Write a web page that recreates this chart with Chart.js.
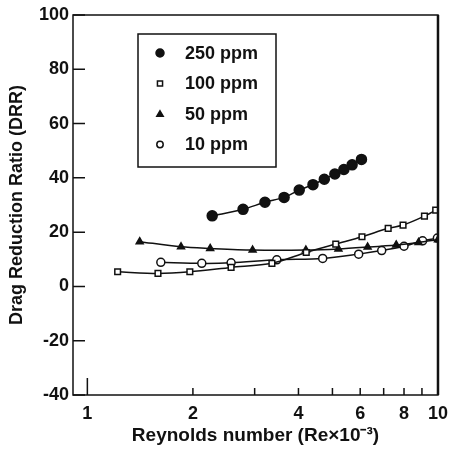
<!DOCTYPE html>
<html>
<head>
<meta charset="utf-8">
<script src="https://cdn.jsdelivr.net/npm/chart.js@4/dist/chart.umd.min.js"></script>
<style>
  html, body { margin: 0; padding: 0; background: #fff; }
  #wrap { width: 456px; height: 450px; }
</style>
</head>
<body>
<div id="wrap"><canvas id="canvasOne" width="456" height="450"></canvas></div>
<script>
// series names (legend order)
let seriesNames = ['250 ppm', '100 ppm', '50 ppm', '10 ppm'];

// Reynolds number (Re x 10^-3) and drag reduction ratio
let re250  = [2.27, 2.78, 3.21, 3.64, 4.02, 4.40, 4.74, 5.08, 5.39, 5.69, 6.05];
let drr250 = [26.0, 28.4, 31.0, 32.8, 35.5, 37.5, 39.5, 41.4, 43.1, 44.8, 46.8];

let re100  = [1.22, 1.59, 1.96, 2.57, 3.36, 4.21, 5.11, 6.07, 7.21, 7.95, 9.15, 9.85];
let drr100 = [5.4, 4.8, 5.4, 7.0, 8.5, 12.5, 15.6, 18.3, 21.4, 22.6, 25.9, 28.1];

let re50  = [1.41, 1.85, 2.24, 2.96, 4.20, 5.20, 6.30, 7.60, 8.80, 10.0];
let drr50 = [16.5, 14.6, 14.0, 13.4, 13.4, 13.8, 14.5, 15.3, 16.2, 17.2];

let re10  = [1.62, 2.12, 2.57, 3.47, 4.69, 5.94, 6.91, 8.00, 9.04, 9.96];
let drr10 = [8.9, 8.5, 8.7, 9.8, 10.3, 11.9, 13.2, 14.8, 16.8, 17.8];

// axis ticks
let xTicks = [1, 2, 3, 4, 5, 6, 7, 8, 9, 10];
let xTickLabels = [1, 2, 4, 6, 8, 10];
let yTicks = [-40, -20, 0, 20, 40, 60, 80, 100];

function pts(xs, ys) {
    return xs.map(function(x, i) {
        return { x: x, y: ys[i] };
    });
}

Chart.defaults.font.family = '"Liberation Sans", Arial, sans-serif';
Chart.defaults.font.weight = 'bold';
Chart.defaults.color = '#111';

// box round the plot, inward tick marks and the legend box
let framePlugin = {
    id: 'frame',
    afterDraw: function(chart) {
        let ctx = chart.ctx;
        let a = chart.chartArea;
        let xs = chart.scales.x;
        let ys = chart.scales.y;
        ctx.save();
        ctx.strokeStyle = '#111';
        ctx.lineWidth = 1.5;
        ctx.strokeRect(a.left, a.top, a.right - a.left, a.bottom - a.top);
        ctx.lineWidth = 2.5;
        ctx.beginPath();
        ctx.moveTo(a.right, a.top);
        ctx.lineTo(a.right, a.bottom);
        ctx.stroke();

        ctx.lineWidth = 1.5;
        ctx.beginPath();
        yTicks.forEach(function(v) {
            let py = ys.getPixelForValue(v);
            ctx.moveTo(a.left, py);
            ctx.lineTo(a.left + 12, py);
        });
        xTicks.forEach(function(v) {
            let px = xs.getPixelForValue(v);
            ctx.moveTo(px, a.bottom);
            ctx.lineTo(px, a.bottom - (v == 1 ? 17 : 7));
        });
        ctx.stroke();

        // legend
        let lx = a.left + 65, ly = a.top + 19, lw = 138, lh = 133;
        ctx.fillStyle = '#fff';
        ctx.fillRect(lx, ly, lw, lh);
        ctx.lineWidth = 1.5;
        ctx.strokeRect(lx, ly, lw, lh);
        ctx.font = 'bold 18px "Liberation Sans", Arial, sans-serif';
        ctx.textBaseline = 'middle';
        chart.data.datasets.forEach(function(ds, i) {
            let cy = ly + 19 + i * 30.5;
            let cx = lx + 22;
            let r = ds.pointRadius * 0.8;
            ctx.fillStyle = ds.pointBackgroundColor;
            ctx.strokeStyle = '#111';
            ctx.lineWidth = 1.5;
            ctx.beginPath();
            if (ds.pointStyle == 'circle') {
                ctx.arc(cx, cy, r, 0, Math.PI * 2);
            } else if (ds.pointStyle == 'rect') {
                ctx.rect(cx - r * 0.8, cy - r * 0.8, r * 1.6, r * 1.6);
            } else {
                ctx.moveTo(cx, cy - r);
                ctx.lineTo(cx + r, cy + r * 0.7);
                ctx.lineTo(cx - r, cy + r * 0.7);
                ctx.closePath();
            }
            ctx.fill();
            ctx.stroke();
            ctx.fillStyle = '#111';
            ctx.fillText(ds.label, lx + 47, cy + 1);
        });
        ctx.restore();
    }
};

function makeSet(i, xs, ys, style, fill, radius) {
    return {
        label: seriesNames[i],
        data: pts(xs, ys),
        showLine: true,
        borderColor: '#111',
        borderWidth: 1.5,
        tension: 0.3,
        pointStyle: style,
        pointRadius: radius,
        pointBorderWidth: 1.5,
        pointBorderColor: '#111',
        pointBackgroundColor: fill
    };
}

let ctx = document.getElementById('canvasOne').getContext('2d');
let config = {
    type: 'scatter',
    data: {
        datasets: [
            makeSet(0, re250, drr250, 'circle', '#111', 5),
            makeSet(1, re100, drr100, 'rect', '#fff', 4),
            makeSet(2, re50, drr50, 'triangle', '#111', 4),
            makeSet(3, re10, drr10, 'circle', '#fff', 4)
        ]
    },
    options: {
        responsive: false,
        animation: false,
        layout: { padding: { left: 6, top: 15, right: 12, bottom: 0 } },
        plugins: {
            legend: { display: false },
            tooltip: { enabled: false }
        },
        scales: {
            x: {
                type: 'logarithmic',
                min: 0.91,
                max: 10,
                grid: { display: false, drawTicks: false },
                border: { display: false },
                afterBuildTicks: function(scale) {
                    scale.ticks = xTicks.map(function(v) { return { value: v }; });
                },
                afterFit: function(scale) { scale.height = 55; },
                ticks: {
                    autoSkip: false,
                    maxRotation: 0,
                    padding: 8,
                    font: { size: 18 },
                    callback: function(v) {
                        return xTickLabels.indexOf(v) >= 0 ? String(v) : '';
                    }
                },
                title: {
                    display: true,
                    text: 'Reynolds number (Re×10⁻³)',
                    font: { size: 19 },
                    padding: { top: 0, bottom: 3 }
                }
            },
            y: {
                min: -40,
                max: 100,
                grid: { display: false, drawTicks: false },
                border: { display: false },
                afterBuildTicks: function(scale) {
                    scale.ticks = yTicks.map(function(v) { return { value: v }; });
                },
                afterFit: function(scale) { scale.width = 67; },
                ticks: {
                    padding: 4,
                    font: { size: 18 }
                },
                title: {
                    display: true,
                    text: 'Drag Reduction Ratio (DRR)',
                    font: { size: 18 },
                    padding: { top: 0, bottom: 0 }
                }
            }
        }
    },
    plugins: [framePlugin]
};

let chart = new Chart(ctx, config);
</script>
</body>
</html>
